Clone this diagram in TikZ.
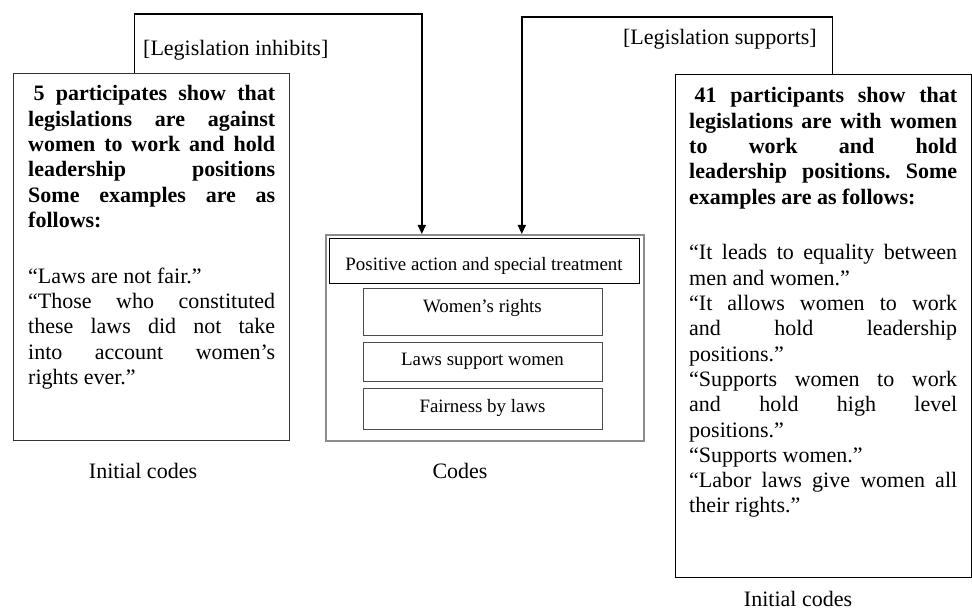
\documentclass[tikz,border=0pt]{standalone}
\usepackage{fontspec}
\setmainfont{Liberation Serif}
\usetikzlibrary{arrows.meta}
\frenchspacing
\begin{document}
\begin{tikzpicture}[x=1pt,y=-1pt,
  box/.style={draw=black!80, line width=1.2pt, inner sep=0pt, anchor=north west},
  outerbox/.style={draw=black!45, line width=1.6pt, inner sep=0pt, anchor=north west},
  codebox/.style={draw=black!70, line width=1.2pt, inner sep=0pt, anchor=north west},
  topbox/.style={draw=black, line width=1.2pt, inner sep=0pt, anchor=north west},
  txt/.style={inner sep=0pt, font=\fontsize{22}{25.3}\selectfont},
  ctxt/.style={inner sep=0pt, font=\fontsize{18.9}{22}\selectfont, anchor=base},
  para/.style={txt, align=justify, anchor=base west},
  arr/.style={line width=1.4pt, -{Triangle[length=9pt,width=8pt]}}]
\useasboundingbox (0,0) rectangle (972,609);

% boxes
\node[box, minimum width=276pt, minimum height=367pt] (L) at (13,73) {};
\node[box, draw=black, minimum width=296pt, minimum height=503pt] (R) at (675,74) {};
\node[outerbox, minimum width=318pt, minimum height=206pt] (C) at (325,234) {};
\node[topbox, minimum width=310pt, minimum height=45pt] (C1) at (329,238) {};
\node[codebox, minimum width=239pt, minimum height=47pt] (C2) at (363,288) {};
\node[codebox, minimum width=239pt, minimum height=39pt] (C3) at (363,342) {};
\node[codebox, minimum width=239pt, minimum height=41pt] (C4) at (363,388) {};

% code texts
\node[ctxt] (t1) at (484,271) {Positive action and special treatment};
\node[ctxt] (t2) at (482.5,312.5) {Women’s rights};
\node[ctxt] (t3) at (482.5,366) {Laws support women};
\node[ctxt] (t4) at (482.5,412.5) {Fairness by laws};

% left text
\node[para, text width=247pt] (Lt) at (28,101) {\tolerance=10000\hbadness=10000\frenchspacing
\textbf{\hspace*{5.5pt}5 participates show that\linebreak
legislations are against\linebreak
women to work and hold\linebreak
leadership positions\linebreak
Some examples are as\linebreak
follows:}\par\vspace{30.5pt}
“Laws are not fair.”\par
“Those who constituted\linebreak
these laws did not take\linebreak
into account women’s\linebreak
rights ever.”};

% right text
\node[para, text width=268pt] (Rt) at (689,103) {\tolerance=10000\hbadness=10000\frenchspacing
\textbf{\hspace*{5.5pt}41 participants show that\linebreak
legislations are with women\linebreak
to work and hold\linebreak
leadership positions. Some\linebreak
examples are as follows:}\par\vspace{30.5pt}
“It leads to equality between\linebreak
men and women.”\par
“It allows women to work\linebreak
and hold leadership\linebreak
positions.”\par
“Supports women to work\linebreak
and hold high level\linebreak
positions.”\par
“Supports women.”\par
“Labor laws give women all\linebreak
their rights.”};

% connector labels
\node[txt, anchor=base west] (li) at (143,56) {[Legislation inhibits]};
\node[txt, anchor=base east] (ls) at (817,45) {[Legislation supports]};

% captions
\node[txt, anchor=base] (cap1) at (143,478) {Initial codes};
\node[txt, anchor=base] (cap2) at (460,478) {Codes};
\node[txt, anchor=base] (cap3) at (798,606) {Initial codes};

% connectors
\draw[arr] ([xshift=-17pt]L.north) -- ++(0,-59) -| ([xshift=-63pt]C.north);
\draw[arr] ([xshift=9pt]R.north) -- ++(0,-57) -| ([xshift=37pt]C.north);
\end{tikzpicture}
\end{document}
